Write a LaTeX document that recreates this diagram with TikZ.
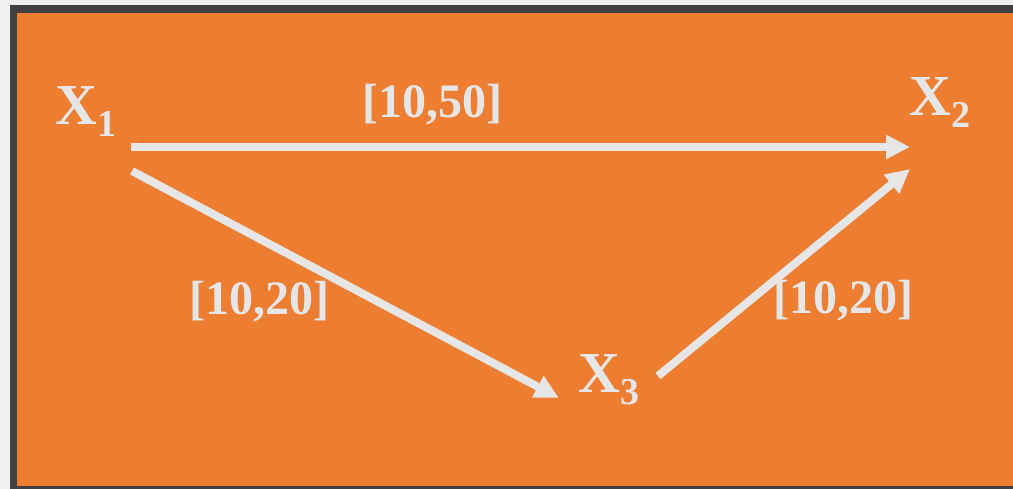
\documentclass[tikz,border=0pt]{standalone}
\usepackage{fontspec}
\setmainfont{Liberation Serif}
\usetikzlibrary{arrows.meta}
\definecolor{bgout}{HTML}{F0F0F0}
\definecolor{frame}{HTML}{404040}
\definecolor{orng}{HTML}{ED7D31}
\definecolor{fg}{HTML}{E7E6E6}
\newcommand{\varlab}[1]{X\raisebox{-12pt}{\fontsize{38}{38}\selectfont #1}}
\tikzset{
  varnode/.style={inner sep=0pt, anchor=base west, text=fg, font=\fontsize{58}{58}\selectfont\bfseries},
  edgelabel/.style={inner sep=0pt, anchor=base, text=fg, font=\fontsize{48}{48}\selectfont\bfseries},
  conn/.style={draw=fg, line width=8pt, -{Triangle[length=24pt,width=23pt]}}
}
\begin{document}
\begin{tikzpicture}[x=1pt,y=-1pt]
\useasboundingbox (0,0) rectangle (1013,489);
\fill[bgout] (-5,-5) rectangle (1020,495);
\fill[frame] (9.5,5) rectangle (1020,495);
\fill[orng] (17,13) rectangle (1020,486);
% variables
\node[varnode] (x1) at (55,125) {\varlab{1}};
\node[varnode] (x2) at (909,116) {\varlab{2}};
\node[varnode] (x3) at (578,392) {\varlab{3}};
% labels
\node[edgelabel] (l12) at (432,118) {[10,50]};
\node[edgelabel] (l13) at (259,315) {[10,20]};
\node[edgelabel] (l32) at (843,314) {[10,20]};
% connector ends
\coordinate (s12) at (131,147);
\coordinate (e12) at (910,147);
\coordinate (s13) at (132,171);
\coordinate (e13) at (559,398);
\coordinate (s32) at (658,376);
\coordinate (e32) at (910,169);
\draw[conn] (s12) -- (e12);
\draw[conn] (s13) -- (e13);
\draw[conn] (s32) -- (e32);
\end{tikzpicture}
\end{document}
